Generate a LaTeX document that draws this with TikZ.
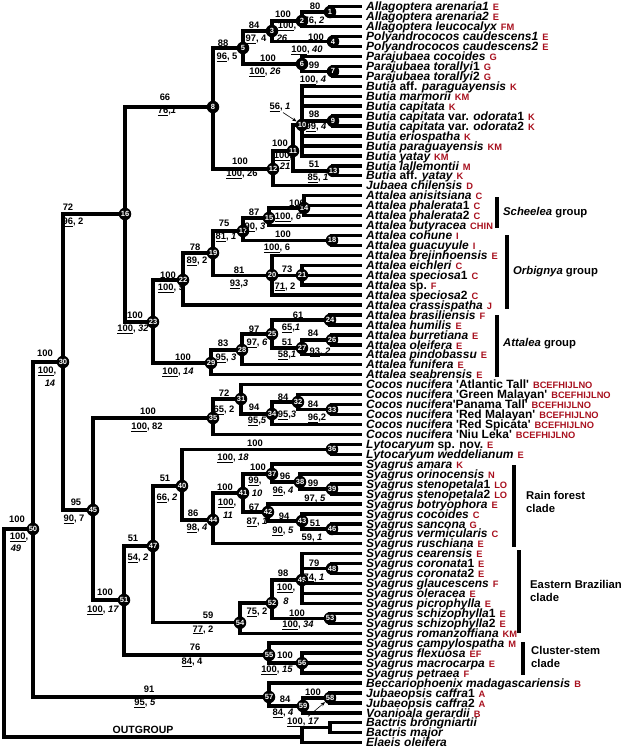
\documentclass[tikz,border=0pt]{standalone}
\usepackage{fontspec}
\setmainfont{Liberation Sans}
\usetikzlibrary{arrows.meta}
\definecolor{codered}{HTML}{A8101E}
\newcommand\rr[1]{\textup{#1}}
\newcommand\cd[1]{\hspace{4pt}{\fontsize{9.3}{9.3}\selectfont\upshape\color{codered}#1}}
\newcommand\bl[2]{\underline{#1}, \textit{#2}}
\newcommand\bu[2]{\underline{#1}, #2}
\newcommand\tq{\textquotesingle}
\newcommand\tx[3]{\node[taxon] (L#1) at (t#1) {#2\cd{#3}};}
\newcommand\la[4]{\node[num] (#1) at (#2,#3) {#4};}
\begin{document}
\begin{tikzpicture}[x=1pt,y=-1pt,
 br/.style={line width=3.4pt},
 nd/.style={circle,fill=black,text=white,inner sep=0pt,minimum size=12.5pt,font=\fontsize{7.5}{7.5}\selectfont\bfseries},
 num/.style={inner sep=0pt,font=\fontsize{9.4}{9.4}\selectfont\bfseries},
 taxon/.style={anchor=base west,inner sep=0pt,xshift=4pt,yshift=-4.2pt,font=\fontsize{12}{12}\selectfont\bfseries\itshape},
 grp/.style={anchor=west,inner sep=0pt,font=\fontsize{11.3}{12.8}\selectfont\bfseries,align=left},
 bar/.style={line width=4pt},
 arr/.style={-{Stealth[length=4.5pt,width=3.5pt]},line width=0.6pt}]
\useasboundingbox (0,0) rectangle (623,750);
\foreach \k in {1,...,75}{\coordinate (t\k) at (362,{6.7+(\k-1)*9.945});}
% internal nodes
\coordinate (p1) at (330,12);   \coordinate (p2) at (302,21);   \coordinate (p3) at (272,31);
\coordinate (p4) at (333,41.5); \coordinate (p5) at (243,48);   \coordinate (p6) at (302,64);
\coordinate (p7) at (333,71.4); \coordinate (p8) at (213,107);  \coordinate (p9) at (333,121);
\coordinate (p10) at (302,125); \coordinate (p11) at (293,151); \coordinate (p12) at (273,169);
\coordinate (p13) at (333,170.8); \coordinate (p14) at (304,208); \coordinate (p15) at (269,218);
\coordinate (p16) at (125,214); \coordinate (p17) at (243,231); \coordinate (p18) at (332,240.4);
\coordinate (p19) at (213,253); \coordinate (p20) at (272,275.2); \coordinate (p21) at (302,275.2);
\coordinate (p22) at (183,280); \coordinate (p23) at (153,322); \coordinate (p24) at (330,320);
\coordinate (p25) at (272,334); \coordinate (p26) at (332,339.9); \coordinate (p27) at (302,348);
\coordinate (p28) at (242,350); \coordinate (p29) at (211,363); \coordinate (p30) at (63,362);
\coordinate (p31) at (241,399); \coordinate (p32) at (298,402); \coordinate (p33) at (332,409.5);
\coordinate (p34) at (272,414); \coordinate (p35) at (213,418); \coordinate (p36) at (332,449.3);
\coordinate (p37) at (272,474); \coordinate (p38) at (300,482); \coordinate (p39) at (332,489);
\coordinate (p40) at (182,486); \coordinate (p41) at (243,493); \coordinate (p42) at (268,512);
\coordinate (p43) at (302,521); \coordinate (p44) at (213,520); \coordinate (p45) at (93,510);
\coordinate (p46) at (332,529); \coordinate (p47) at (153,546); \coordinate (p48) at (332,568.6);
\coordinate (p49) at (302,580); \coordinate (p50) at (33,529);  \coordinate (p51) at (124,600);
\coordinate (p52) at (272,603); \coordinate (p53) at (330,618.4); \coordinate (p54) at (240,622.7);
\coordinate (p55) at (269,655); \coordinate (p56) at (302,663.1); \coordinate (p57) at (269,697);
\coordinate (p58) at (330,697.9); \coordinate (p59) at (303,706);
\coordinate (og1) at (330,727.7); \coordinate (og2) at (302,737); \coordinate (root) at (4,600);
% branches
\draw[br] (p1)|-(t1) (p1)|-(t2) (p2)|-(p1) (p2)|-(t3) (p4)|-(t4) (p4)|-(t5)
 (p3)|-(p2) (p3)|-(p4) (p7)|-(t7) (p7)|-(t8) (p6)|-(t6) (p6)|-(p7) (p5)|-(p3) (p5)|-(p6)
 (p9)|-(t12) (p9)|-(t13) (p10)|-(t9) (p10)|-(t10) (p10)|-(t11) (p10)|-(p9) (p10)|-(t14)
 (p10)|-(t15) (p10)|-(t16) (p13)|-(t17) (p13)|-(t18) (p11)|-(p10) (p11)|-(p13)
 (p12)|-(p11) (p12)|-(t19) (p8)|-(p5) (p8)|-(p12)
 (p14)|-(t20) (p14)|-(t21) (p14)|-(t22) (p15)|-(p14) (p15)|-(t23) (p18)|-(t24) (p18)|-(t25)
 (p17)|-(p15) (p17)|-(p18) (p21)|-(t27) (p21)|-(t28) (p21)|-(t29) (p20)|-(t26) (p20)|-(p21)
 (p20)|-(t30) (p19)|-(p17) (p19)|-(p20) (p22)|-(p19) (p22)|-(t31)
 (p24)|-(t32) (p24)|-(t33) (p26)|-(t34) (p26)|-(t35) (p27)|-(p26) (p27)|-(t36)
 (p25)|-(p24) (p25)|-(p27) (p28)|-(p25) (p28)|-(t37) (p29)|-(p28) (p29)|-(t38)
 (p23)|-(p22) (p23)|-(p29) (p16)|-(p8) (p16)|-(p23)
 (p33)|-(t41) (p33)|-(t42) (p32)|-(t40) (p32)|-(p33) (p34)|-(p32) (p34)|-(t43)
 (p31)|-(t39) (p31)|-(p34) (p35)|-(p31) (p35)|-(t44)
 (p36)|-(t45) (p36)|-(t46) (p39)|-(t49) (p39)|-(t50) (p38)|-(t48) (p38)|-(p39)
 (p37)|-(t47) (p37)|-(p38) (p46)|-(t53) (p46)|-(t54) (p43)|-(t52) (p43)|-(p46)
 (p42)|-(t51) (p42)|-(p43) (p41)|-(p37) (p41)|-(p42) (p44)|-(p41) (p44)|-(t55)
 (p40)|-(p36) (p40)|-(p44)
 (p48)|-(t57) (p48)|-(t58) (p49)|-(t56) (p49)|-(p48) (p49)|-(t59) (p49)|-(t60) (p49)|-(t61)
 (p53)|-(t62) (p53)|-(t63) (p52)|-(p49) (p52)|-(p53) (p54)|-(p52) (p54)|-(t64)
 (p47)|-(p40) (p47)|-(p54)
 (p56)|-(t66) (p56)|-(t67) (p56)|-(t68) (p55)|-(t65) (p55)|-(p56)
 (p51)|-(p47) (p51)|-(p55) (p45)|-(p35) (p45)|-(p51) (p30)|-(p16) (p30)|-(p45)
 (p58)|-(t70) (p58)|-(t71) (p59)|-(p58) (p59)|-(t72) (p57)|-(t69) (p57)|-(p59)
 (p50)|-(p30) (p50)|-(p57)
 (og1)|-(t73) (og1)|-(t74) (og2)|-(og1) (og2)|-(t75) (root)|-(p50) (root)|-(og2);
% node circles
\foreach \k in {1,...,59}{\node[nd] (c\k) at (p\k) {\k};}
% support labels
\la{a1}{315}{6}{80} \la{b1}{314}{21}{\bl{76}{2}}
\la{a2}{283}{14}{100} \la{b2}{287}{26}{\underline{100},} \la{d2}{282}{38}{\textit{26}}
\la{a3}{254}{25}{84} \la{b3}{256}{39}{\bu{97}{4}}
\la{a4}{316}{37}{100} \la{b4}{307}{50}{\bl{100}{40}}
\la{a5}{223}{43}{88} \la{b5}{227}{57}{\bu{96}{5}}
\la{a6}{268}{58}{100} \la{b6}{265}{72}{\bl{100}{26}}
\la{a7}{314}{65}{99} \la{b7}{313}{80}{\bl{100}{4}}
\la{a8}{165}{97}{66} \la{b8}{167}{111}{\underline{76},\textit{1}}
\la{a9}{314}{114}{98} \la{b9}{316}{127}{\bl{99}{4}}
\la{l10}{280}{107}{\bl{56}{1}}
\la{a11}{280}{143}{100} \la{b11}{283}{156}{\underline{100},} \la{d11}{285}{166}{\textit{21}}
\la{a12}{240}{161}{100} \la{b12}{242}{174}{\bu{100}{26}}
\la{a13}{314}{164}{51} \la{b13}{318}{178}{\bl{85}{1}}
\la{a14}{297}{203}{100} \la{b14}{288}{217}{\bl{100}{6}}
\la{a15}{254}{212}{87} \la{b15}{255}{227}{\bl{90}{3}}
\la{a16}{68}{207}{72} \la{b16}{73}{222}{\bu{96}{2}}
\la{a17}{224}{223}{75} \la{b17}{226}{237}{\bl{81}{1}}
\la{a18}{283}{234}{100} \la{b18}{277}{248}{\bu{100}{6}}
\la{a19}{195}{247}{78} \la{b19}{197}{261}{\bu{89}{2}}
\la{a20}{239}{270}{81} \la{b20}{239}{284}{\underline{93},\textit{3}}
\la{a21}{287}{269}{73} \la{b21}{285}{287}{\bu{71}{2}}
\la{a22}{168}{275}{100} \la{b22}{171}{288}{\bl{100}{9}}
\la{a23}{135}{315}{100} \la{b23}{133}{329}{\bl{100}{32}}
\la{a24}{298}{315}{61} \la{b24}{291}{328}{\underline{65},\textit{1}}
\la{a25}{254}{329}{97} \la{b25}{257}{343}{\bl{97}{6}}
\la{a26}{313}{333}{84} \la{b26}{320}{352}{\bl{93}{2}}
\la{a27}{287}{342}{51} \la{b27}{287}{355}{\underline{58},\textit{1}}
\la{a28}{223}{343}{83} \la{b28}{226}{358}{\bl{95}{3}}
\la{a29}{183}{357}{100} \la{b29}{178}{372}{\bl{100}{14}}
\la{a30}{45}{353}{100} \la{b30}{47}{371}{\underline{100},} \la{d30}{50}{383}{\textit{14}}
\la{a31}{224}{393}{72} \la{b31}{224}{410}{\bu{65}{2}}
\la{a32}{283}{397}{84} \la{b32}{287}{415}{\underline{95},\textit{3}}
\la{a33}{313}{404}{84} \la{b33}{317}{418}{\underline{96},2}
\la{a34}{254}{407}{94} \la{b34}{257}{421}{\underline{95},\textit{5}}
\la{a35}{148}{411}{100} \la{b35}{147}{427}{\bu{100}{82}}
\la{a36}{255}{443}{100} \la{b36}{233}{458}{\bl{100}{18}}
\la{a37}{258}{467}{100} \la{b37}{255}{481}{\underline{99},} \la{d37}{257}{493}{\textit{10}}
\la{a38}{285}{476}{96} \la{b38}{283}{491}{\bl{96}{4}}
\la{a39}{313}{483}{99} \la{b39}{315}{499}{\bl{97}{5}}
\la{a40}{165}{478}{51} \la{b40}{167}{498}{\bl{66}{2}}
\la{a41}{225}{487}{100} \la{b41}{227}{503}{\underline{100},} \la{d41}{228}{515}{\textit{11}}
\la{a42}{254}{507}{67} \la{b42}{257}{522}{\bl{87}{1}}
\la{a43}{284}{516}{94} \la{b43}{283}{531}{\bl{90}{5}}
\la{a44}{193}{513}{86} \la{b44}{197}{528}{\bl{98}{4}}
\la{a45}{76}{502}{95} \la{b45}{74}{519}{\bu{90}{7}}
\la{a46}{315}{523}{51} \la{b46}{312}{538}{\bl{59}{1}}
\la{a47}{133}{538}{51} \la{b47}{138}{558}{\bl{54}{2}}
\la{a48}{314}{563}{79} \la{b48}{314}{578}{\bl{74}{1}}
\la{a49}{283}{573}{98} \la{b49}{286}{588}{\underline{100},} \la{d49}{286}{601}{\textit{8}}
\la{a50}{17}{519}{100} \la{b50}{19}{537}{\underline{100},} \la{d50}{16}{548}{\textit{49}}
\la{a51}{105}{592}{100} \la{b51}{103}{610}{\bl{100}{17}}
\la{b52}{257}{612}{\bu{75}{2}}
\la{a53}{297}{613}{100} \la{b53}{298}{625}{\bl{100}{34}}
\la{a54}{208}{615}{59} \la{b54}{203}{630}{\bu{77}{2}}
\la{a55}{195}{647}{76} \la{b55}{192}{662}{\bu{84}{4}}
\la{a56}{285}{655}{100} \la{b56}{277}{670}{\bl{100}{15}}
\la{a57}{149}{689}{91} \la{b57}{145}{703}{\bl{95}{5}}
\la{a58}{313}{692}{100} \la{b58}{303}{722}{\bl{100}{17}}
\la{a59}{285}{699}{84} \la{b59}{283}{713}{\bl{84}{4}}
\draw[arr] ([xshift=3pt,yshift=-1pt]l10.south) -- (c10);
\draw[arr] ([xshift=5pt,yshift=1pt]b58.north) -- (c58);
\node[font=\fontsize{10.5}{10.5}\selectfont\bfseries,inner sep=0pt] (ogl) at (143,730) {OUTGROUP};
% taxa
\tx{1}{Allagoptera arenaria1}{E}
\tx{2}{Allagoptera arenaria2}{E}
\tx{3}{Allagoptera leucocalyx}{FM}
\tx{4}{Polyandrococos caudescens1}{E}
\tx{5}{Polyandrococos caudescens2}{E}
\tx{6}{Parajubaea cocoides}{G}
\tx{7}{Parajubaea torallyi\rr{1}}{G}
\tx{8}{Parajubaea torallyi\rr{2}}{G}
\tx{9}{Butia \rr{aff.} paraguayensis}{K}
\tx{10}{Butia marmorii}{KM}
\tx{11}{Butia capitata}{K}
\tx{12}{Butia capitata \rr{var.} odorata\rr{1}}{K}
\tx{13}{Butia capitata \rr{var.} odorata\rr{2}}{K}
\tx{14}{Butia eriospatha}{K}
\tx{15}{Butia paraguayensis}{KM}
\tx{16}{Butia yatay}{KM}
\tx{17}{Butia lallemontii}{M}
\tx{18}{Butia \rr{aff.} yatay}{K}
\tx{19}{Jubaea chilensis}{D}
\tx{20}{Attalea anisitsiana}{C}
\tx{21}{Attalea phalerata\rr{1}}{C}
\tx{22}{Attalea phalerata\rr{2}}{C}
\tx{23}{Attalea butyracea}{CHIN}
\tx{24}{Attalea cohune}{I}
\tx{25}{Attalea guacuyule}{I}
\tx{26}{Attalea brejinhoensis}{E}
\tx{27}{Attalea eichleri}{C}
\tx{28}{Attalea speciosa\rr{1}}{C}
\tx{29}{Attalea \rr{sp.}}{F}
\tx{30}{Attalea speciosa\rr{2}}{C}
\tx{31}{Attalea crassispatha}{J}
\tx{32}{Attalea brasiliensis}{F}
\tx{33}{Attalea humilis}{E}
\tx{34}{Attalea burretiana}{E}
\tx{35}{Attalea oleifera}{E}
\tx{36}{Attalea pindobassu}{E}
\tx{37}{Attalea funifera}{E}
\tx{38}{Attalea seabrensis}{E}
\tx{39}{Cocos nucifera \rr{\tq Atlantic Tall\tq}}{BCEFHIJLNO}
\tx{40}{Cocos nucifera \rr{\tq Green Malayan\tq}}{BCEFHIJLNO}
\tx{41}{Cocos nucifera\rr{\tq Panama Tall\tq}}{BCEFHIJLNO}
\tx{42}{Cocos nucifera \rr{\tq Red Malayan\tq}}{BCEFHIJLNO}
\tx{43}{Cocos nucifera \rr{\tq Red Spicata\tq}}{BCEFHIJLNO}
\tx{44}{Cocos nucifera \rr{\tq Niu Leka\tq}}{BCEFHIJLNO}
\tx{45}{Lytocaryum \rr{sp. nov.}}{E}
\tx{46}{Lytocaryum weddelianum}{E}
\tx{47}{Syagrus amara}{K}
\tx{48}{Syagrus orinocensis}{N}
\tx{49}{Syagrus stenopetala\rr{1}}{LO}
\tx{50}{Syagrus stenopetala\rr{2}}{LO}
\tx{51}{Syagrus botryophora}{E}
\tx{52}{Syagrus cocoides}{C}
\tx{53}{Syagrus sancona}{G}
\tx{54}{Syagrus vermicularis}{C}
\tx{55}{Syagrus ruschiana}{E}
\tx{56}{Syagrus cearensis}{E}
\tx{57}{Syagrus coronata\rr{1}}{E}
\tx{58}{Syagrus coronata\rr{2}}{E}
\tx{59}{Syagrus glaucescens}{F}
\tx{60}{Syagrus oleracea}{E}
\tx{61}{Syagrus picrophylla}{E}
\tx{62}{Syagrus schizophylla\rr{1}}{E}
\tx{63}{Syagrus schizophylla\rr{2}}{E}
\tx{64}{Syagrus romanzoffiana}{KM}
\tx{65}{Syagrus campylospatha}{M}
\tx{66}{Syagrus flexuosa}{EF}
\tx{67}{Syagrus macrocarpa}{E}
\tx{68}{Syagrus petraea}{F}
\tx{69}{Beccariophoenix madagascariensis}{B}
\tx{70}{Jubaeopsis caffra\rr{1}}{A}
\tx{71}{Jubaeopsis caffra\rr{2}}{A}
\tx{72}{Voanioala gerardii}{B}
\tx{73}{Bactris brongniartii}{}
\tx{74}{Bactris major}{}
\tx{75}{Elaeis oleifera}{}
% group bars and labels
\coordinate (s1) at (497,197); \coordinate (s2) at (497,228);
\coordinate (o1) at (507,235); \coordinate (o2) at (507,309);
\coordinate (a1b) at (497,315); \coordinate (a2b) at (497,377);
\coordinate (r1) at (514,465); \coordinate (r2) at (514,547);
\coordinate (e1) at (519,550); \coordinate (e2) at (519,633);
\coordinate (k1) at (523,642); \coordinate (k2) at (523,675);
\draw[bar] (s1)--(s2) (o1)--(o2) (a1b)--(a2b) (r1)--(r2) (e1)--(e2) (k1)--(k2);
\node[grp] (gS) at (503,213) {\textit{Scheelea} group};
\node[grp] (gO) at (513,272) {\textit{Orbignya} group};
\node[grp] (gA) at (503,344) {\textit{Attalea} group};
\node[grp] (gR) at (526,502) {Rain forest\\clade};
\node[grp] (gE) at (530,591) {Eastern Brazilian\\clade};
\node[grp] (gC) at (531,657) {Cluster-stem\\clade};
\end{tikzpicture}
\end{document}
